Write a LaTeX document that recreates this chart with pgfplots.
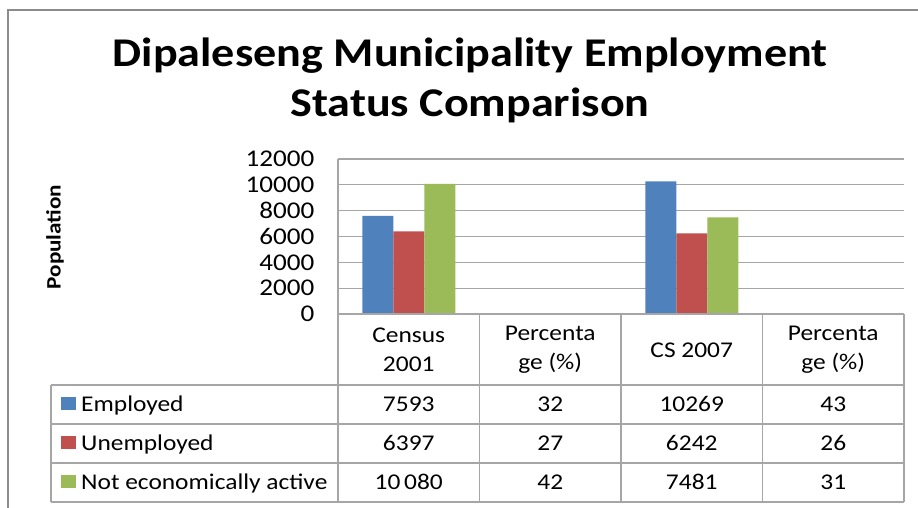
\documentclass[border=0pt]{standalone}
\usepackage{fontspec}
\setmainfont{Carlito}[FakeStretch=1.13]
\usepackage{pgfplots}
\pgfplotsset{compat=1.18}
\definecolor{xblue}{HTML}{4F81BD}
\definecolor{xred}{HTML}{C0504D}
\definecolor{xgreen}{HTML}{9BBB59}
\definecolor{gridc}{HTML}{A6A6A6}
\definecolor{borderc}{HTML}{8C8C8C}
\begin{document}
\begin{tikzpicture}
\useasboundingbox (0,0) rectangle (918pt,508pt);
\clip (0,0) rectangle (918pt,508pt);
\draw[borderc, line width=1.6pt] (8pt,-20pt) rectangle (940pt,498pt);
\node[font=\fontsize{40.8}{50}\selectfont\bfseries, anchor=base] at (470pt,441pt) {Dipaleseng Municipality Employment};
\node[font=\fontsize{40.8}{50}\selectfont\bfseries, anchor=base] at (470pt,391pt) {Status Comparison};
\node[font=\fontsize{20.5}{24}\selectfont\bfseries, rotate=90] at (55pt,271pt) {Population};
\begin{axis}[
  at={(338pt,194pt)}, anchor=south west,
  scale only axis, width=566pt, height=155pt,
  xmin=-0.5, xmax=3.5, ymin=0, ymax=12000,
  ytick={0,2000,4000,6000,8000,10000,12000},
  scaled y ticks=false,
  xtick={0,1,2,3},
  xticklabels={{Census\\2001},{Percenta\\ge (\%)},{CS 2007},{Percenta\\ge (\%)}},
  xticklabel style={align=center, anchor=center, yshift=-36pt, font=\fontsize{22.5}{29}\selectfont},
  yticklabel style={xshift=-20pt, font=\fontsize{24}{28}\selectfont},
  /pgf/number format/assume math mode=true,
  /pgf/number format/1000 sep={},
  major tick length=0pt,
  axis line style={draw=none},
  ymajorgrids, grid style={gridc, line width=1.2pt},
  ybar=0pt, bar width=31pt,
]
\addplot[fill=xblue, draw=none] coordinates {(0,7593) (2,10269)};
\addplot[fill=xred, draw=none] coordinates {(0,6397) (2,6242)};
\addplot[fill=xgreen, draw=none] coordinates {(0,10080) (2,7481)};
\end{axis}
% data table grid
\begin{scope}[gridc, line width=1.2pt]
\draw (338pt,349pt) -- (338pt,6pt);
\foreach \x in {479.5,621,762.5,904} \draw (\x pt,194pt) -- (\x pt,6pt);
\draw (51pt,123pt) -- (51pt,6pt);
\draw (338pt,194pt) -- (904pt,194pt);
\foreach \y in {123,84,45,6} \draw (51pt,\y pt) -- (904pt,\y pt);
\end{scope}
% legend keys
\fill[xblue] (61pt,98pt) rectangle (76pt,111pt);
\fill[xred] (61pt,59pt) rectangle (76pt,72pt);
\fill[xgreen] (61pt,20pt) rectangle (76pt,33pt);
\begin{scope}[every node/.style={font=\fontsize{22.5}{27}\selectfont, inner sep=0pt}]
\node[anchor=base west] at (81pt,96pt) {Employed};
\node[anchor=base west] at (81pt,57pt) {Unemployed};
\node[anchor=base west] at (81pt,18pt) {Not economically active};
\node[anchor=base] at (408.75pt,96pt) {7593};
\node[anchor=base] at (408.75pt,57pt) {6397};
\node[anchor=base] at (408.75pt,18pt) {10\,080};
\node[anchor=base] at (550.25pt,96pt) {32};
\node[anchor=base] at (550.25pt,57pt) {27};
\node[anchor=base] at (550.25pt,18pt) {42};
\node[anchor=base] at (691.75pt,96pt) {10269};
\node[anchor=base] at (691.75pt,57pt) {6242};
\node[anchor=base] at (691.75pt,18pt) {7481};
\node[anchor=base] at (833.25pt,96pt) {43};
\node[anchor=base] at (833.25pt,57pt) {26};
\node[anchor=base] at (833.25pt,18pt) {31};
\end{scope}
\end{tikzpicture}
\end{document}
